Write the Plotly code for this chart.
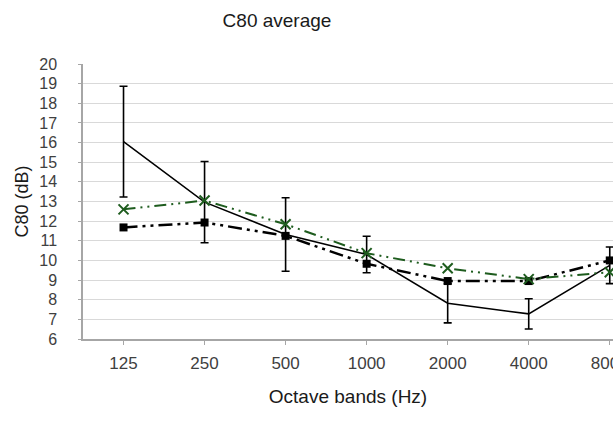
import plotly.graph_objects as go

bands = ["125", "250", "500", "1000", "2000", "4000", "8000"]
c80_solid = [16.05, 12.97, 11.32, 10.30, 7.82, 7.28, 9.75]
c80_solid_err = [2.82, 2.07, 1.87, 0.93, 1.00, 0.77, 0.93]
c80_square = [11.68, 11.93, 11.25, 9.83, 8.95, 8.95, 10.00]
c80_cross = [12.60, 13.05, 11.84, 10.37, 9.60, 9.05, 9.40]
y_ticks = list(range(6, 21))

fig = go.Figure()
fig.add_trace(go.Scatter(
    x=bands, y=c80_solid, mode="lines",
    line=dict(color="black", width=1.5),
    error_y=dict(type="data", array=c80_solid_err, visible=True,
                 color="black", thickness=1.6, width=4),
    showlegend=False, cliponaxis=False))
fig.add_trace(go.Scatter(
    x=bands, y=c80_square, mode="lines+markers",
    line=dict(color="black", width=2.5, dash="14px,5px,3px,5px,3px,5px"),
    marker=dict(symbol="square", size=8, color="black"),
    showlegend=False, cliponaxis=False))
fig.add_trace(go.Scatter(
    x=bands, y=c80_cross, mode="lines+markers",
    line=dict(color="#1e5c1e", width=2, dash="12px,5px,2px,5px,2px,5px"),
    marker=dict(symbol="x-thin-open", size=10, color="#1e5c1e",
                line=dict(color="#1e5c1e", width=2)),
    showlegend=False, cliponaxis=False))

fig.update_layout(
    width=613, height=448,
    margin=dict(l=83, r=0, t=64, b=109),
    paper_bgcolor="white", plot_bgcolor="white",
    title=dict(text="C80 average", x=277/613, xref="container", xanchor="center",
               y=1-20/448, yref="container", yanchor="middle",
               font=dict(family="Liberation Sans, sans-serif", size=19, color="#1a1a1a")),
    font=dict(family="Liberation Sans, sans-serif", color="#404040"),
)
fig.update_xaxes(
    type="category", range=[-0.5, 6.04], automargin=False,
    ticklabeloverflow="allow",
    showgrid=False, showline=True, linecolor="#a6a6a6", linewidth=1.5,
    ticks="outside", ticklen=4, tickcolor="#a6a6a6",
    ticklabelstandoff=4,
    tickfont=dict(size=17, color="#404040"),
    title=dict(text="Octave bands (Hz)", standoff=18,
               font=dict(size=19, color="#1a1a1a")),
)
fig.update_yaxes(
    range=[6, 20], tickvals=y_ticks, automargin=False,
    showgrid=True, gridcolor="#d9d9d9", gridwidth=1,
    showline=True, linecolor="#a6a6a6", linewidth=1.5,
    ticks="outside", ticklen=3, tickcolor="#a6a6a6",
    ticklabelstandoff=18,
    tickfont=dict(size=16, color="#404040"),
    title=dict(text="C80 (dB)", standoff=6,
               font=dict(size=18, color="#1a1a1a")),
    zeroline=False,
)

fig.write_html("out.html")
